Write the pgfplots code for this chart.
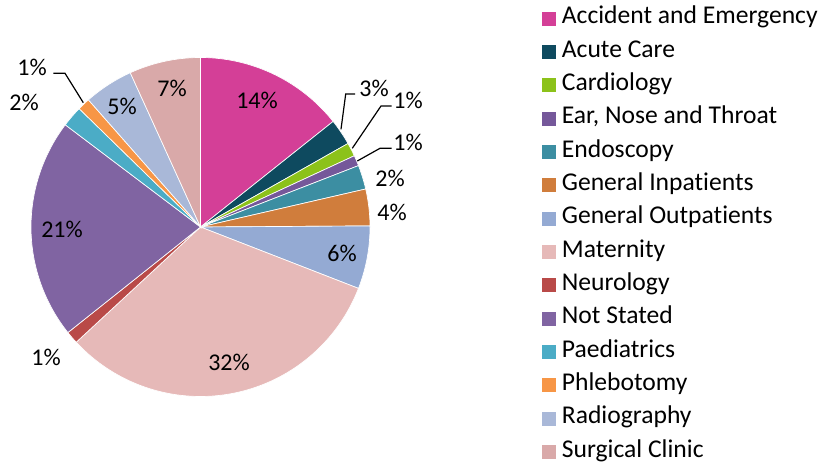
\documentclass[border=0pt]{standalone}
\usepackage{pgfplots}
\pgfplotsset{compat=1.18}
\usepackage{fontspec}
\setmainfont{Carlito}[Ligatures=NoCommon]
\definecolor{cAE}{HTML}{D43F97}
\definecolor{cAC}{HTML}{0E4A5F}
\definecolor{cCA}{HTML}{8CC21A}
\definecolor{cEN}{HTML}{75589A}
\definecolor{cEO}{HTML}{3C8EA2}
\definecolor{cGI}{HTML}{D07D3C}
\definecolor{cGO}{HTML}{94AAD3}
\definecolor{cMA}{HTML}{E6B9B8}
\definecolor{cNE}{HTML}{B94A48}
\definecolor{cNS}{HTML}{8064A2}
\definecolor{cPA}{HTML}{4BACC6}
\definecolor{cPH}{HTML}{F79646}
\definecolor{cRA}{HTML}{A9B8D8}
\definecolor{cSC}{HTML}{D9A9A9}
\begin{document}
\begin{tikzpicture}
\begin{axis}[hide axis, scale only axis, width=625.5pt, height=349.5pt,
  xmin=0, xmax=834, ymin=-466, ymax=0, clip=false,
  legend cell align=left,
  legend style={at={(axis cs:538,-3)}, anchor=north west, draw=none, fill=none,
    font=\fontsize{19.2}{22}\selectfont, row sep=6pt,
    nodes={inner xsep=4.2pt, inner ysep=0pt, text height=13.5pt, text depth=5.5pt}},
  legend image code/.code={\path[#1,draw=none] (0pt,-5.25pt) rectangle (10.5pt,5.25pt);}]
\gdef\cum{0}
\foreach \v/\c in {14.3/cAE, 2.5/cAC, 1.3/cCA, 1.0/cEN, 2.3/cEO, 3.5/cGI, 6.0/cGO, 32.2/cMA, 1.2/cNE, 21.0/cNS, 2.0/cPA, 1.2/cPH, 4.7/cRA, 6.8/cSC}{
  \pgfmathsetmacro\a{3.6*\cum}
  \pgfmathsetmacro\b{3.6*(\cum+\v)}
  \pgfmathsetmacro\n{\cum+\v}
  \xdef\cum{\n}
  \edef\temp{\noexpand\addplot[fill=\c, draw=white, line width=0.5pt, domain=\a:\b, samples=80]
    ({200.5+169.5*sin(\noexpand\x)},{-227+169.5*cos(\noexpand\x)}) -- (axis cs:200.5,-227) -- cycle;}
  \temp
}
\legend{Accident and Emergency, Acute Care, Cardiology, {Ear, Nose and Throat}, Endoscopy, General Inpatients, General Outpatients, Maternity, Neurology, Not Stated, Paediatrics, Phlebotomy, Radiography, Surgical Clinic}
% leader lines
\addplot[forget plot, black, line width=0.9pt] coordinates {(341,-129.3) (345.7,-94) (355,-94)};
\addplot[forget plot, black, line width=0.9pt] coordinates {(352.3,-148.3) (381,-106) (391.7,-106)};
\addplot[forget plot, black, line width=0.9pt] coordinates {(357.3,-161) (380,-148.3) (391.7,-148.3)};
\addplot[forget plot, black, line width=0.9pt] coordinates {(83.3,-102.7) (65,-73.3) (53.3,-73.3)};
% labels
\begin{scope}[every node/.style={font=\fontsize{18}{21}\selectfont, inner sep=0pt}]
\node at (axis cs:257,-100) {14\%};
\node at (axis cs:374,-88) {3\%};
\node at (axis cs:408,-100) {1\%};
\node at (axis cs:408,-142) {1\%};
\node at (axis cs:390,-178) {2\%};
\node at (axis cs:392,-212) {4\%};
\node at (axis cs:342,-253) {6\%};
\node at (axis cs:229,-362) {32\%};
\node at (axis cs:46,-357) {1\%};
\node at (axis cs:62,-229) {21\%};
\node at (axis cs:24,-102) {2\%};
\node at (axis cs:32,-67) {1\%};
\node at (axis cs:122,-106) {5\%};
\node at (axis cs:172,-88) {7\%};
\end{scope}
\end{axis}
\pgfresetboundingbox
\path (0,0) rectangle (625.5pt,349.5pt);
\end{tikzpicture}
\end{document}
